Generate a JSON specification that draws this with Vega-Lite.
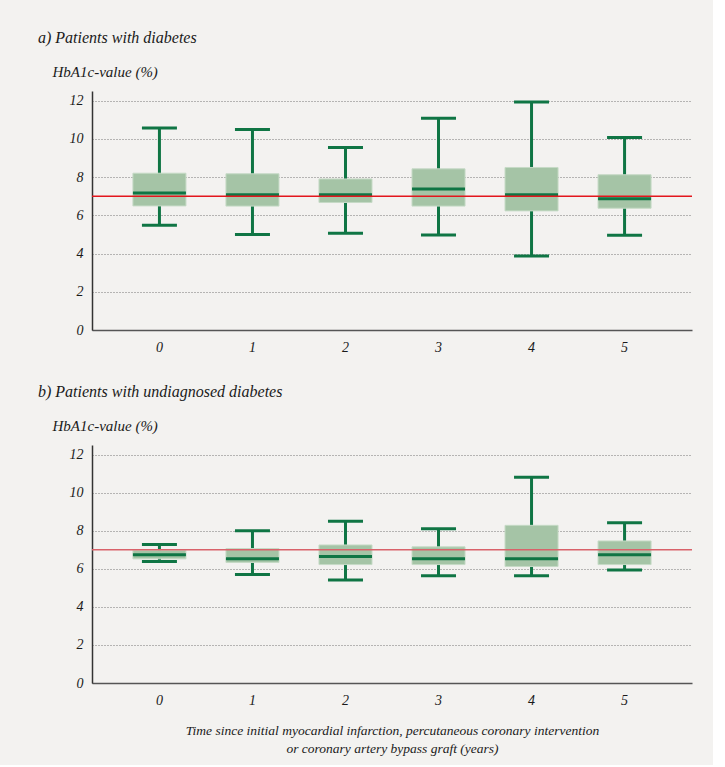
{
  "$schema": "https://vega.github.io/schema/vega-lite/v6.json",
  "background": "#f3f2f0",
  "padding": {"left": 38, "top": 30, "right": 20, "bottom": 10},
  "spacing": 30,
  "config": {
    "font": "Liberation Serif",
    "view": {"stroke": null},
    "tick": {"opacity": 1},
    "title": {"font": "Liberation Serif", "fontStyle": "italic", "fontWeight": "normal", "fontSize": 16, "anchor": "start", "color": "#1a1a1a", "frame": "group"},
    "axis": {"labelFont": "Liberation Serif", "labelFontStyle": "italic", "labelFontSize": 14, "labelColor": "#1a1a1a", "labelOverlap": false, "titleFont": "Liberation Serif", "titleFontStyle": "italic", "titleFontWeight": "normal", "titleFontSize": 15, "titleColor": "#1a1a1a", "ticks": false}
  },
  "datasets": {
    "a": [
      {"year": "0", "lower": 5.48, "q1": 6.49, "median": 7.17, "q3": 8.2, "upper": 10.56},
      {"year": "1", "lower": 4.99, "q1": 6.48, "median": 7.07, "q3": 8.17, "upper": 10.49},
      {"year": "2", "lower": 5.06, "q1": 6.67, "median": 7.07, "q3": 7.9, "upper": 9.55},
      {"year": "3", "lower": 4.97, "q1": 6.48, "median": 7.37, "q3": 8.43, "upper": 11.07},
      {"year": "4", "lower": 3.87, "q1": 6.23, "median": 7.07, "q3": 8.5, "upper": 11.92},
      {"year": "5", "lower": 4.96, "q1": 6.37, "median": 6.86, "q3": 8.12, "upper": 10.07}
    ],
    "b": [
      {"year": "0", "lower": 6.38, "q1": 6.52, "median": 6.73, "q3": 6.97, "upper": 7.27},
      {"year": "1", "lower": 5.7, "q1": 6.33, "median": 6.52, "q3": 7.06, "upper": 8.0},
      {"year": "2", "lower": 5.41, "q1": 6.22, "median": 6.64, "q3": 7.25, "upper": 8.5},
      {"year": "3", "lower": 5.63, "q1": 6.22, "median": 6.52, "q3": 7.15, "upper": 8.1},
      {"year": "4", "lower": 5.63, "q1": 6.12, "median": 6.52, "q3": 8.28, "upper": 10.81},
      {"year": "5", "lower": 5.93, "q1": 6.22, "median": 6.73, "q3": 7.46, "upper": 8.41}
    ]
  },
  "vconcat": [
    {
      "title": {"text": "a) Patients with diabetes", "dx": -54, "offset": 18},
      "width": 600,
      "height": 239,
      "data": {"name": "a"},
      "layer": [
        {
          "mark": {"type": "rule", "color": "#0f7544", "strokeWidth": 3},
          "encoding": {
            "x": {"field": "year", "type": "ordinal", "sort": null, "scale": {"type": "band", "paddingInner": 0.43, "paddingOuter": 0.44},
              "axis": {"title": null, "labelAngle": 0, "labelPadding": 10, "domainColor": "#555", "domainWidth": 1.5}},
            "y": {"field": "lower", "type": "quantitative", "scale": {"domain": [0, 12.5], "nice": false},
              "axis": {"values": [0, 2, 4, 6, 8, 10, 12], "labelFontStyle": "italic", "grid": true, "gridDash": [1, 2], "gridColor": "#777", "gridWidth": 1, "domainColor": "#333", "domainWidth": 1.5, "labelPadding": 9,
                "title": "HbA1c-value (%)", "titleAngle": 0, "titleAlign": "left", "titleAnchor": "end", "titleBaseline": "alphabetic", "titleX": -40, "titleY": -15}},
            "y2": {"field": "upper"}
          }
        },
        {
          "mark": {"type": "tick", "color": "#0f7544", "size": 35, "thickness": 3},
          "encoding": {"x": {"field": "year", "type": "ordinal", "sort": null}, "y": {"field": "upper", "type": "quantitative", "axis": {"values": [0, 2, 4, 6, 8, 10, 12], "labelFontStyle": "italic"}}}
        },
        {
          "mark": {"type": "tick", "color": "#0f7544", "size": 35, "thickness": 3},
          "encoding": {"x": {"field": "year", "type": "ordinal", "sort": null}, "y": {"field": "lower", "type": "quantitative", "axis": {"values": [0, 2, 4, 6, 8, 10, 12], "labelFontStyle": "italic"}}}
        },
        {
          "mark": {"type": "bar", "color": "#a5c4a6", "stroke": "#c6dac6", "strokeWidth": 1},
          "encoding": {"x": {"field": "year", "type": "ordinal", "sort": null}, "y": {"field": "q1", "type": "quantitative", "axis": {"values": [0, 2, 4, 6, 8, 10, 12], "labelFontStyle": "italic"}}, "y2": {"field": "q3"}}
        },
        {
          "mark": {"type": "tick", "color": "#0f7544", "size": 53, "thickness": 3},
          "encoding": {"x": {"field": "year", "type": "ordinal", "sort": null}, "y": {"field": "median", "type": "quantitative", "axis": {"values": [0, 2, 4, 6, 8, 10, 12], "labelFontStyle": "italic"}}}
        },
        {
          "data": {"values": [{}]},
          "mark": {"type": "rule", "color": "#e3161d", "strokeWidth": 1.5},
          "encoding": {"y": {"datum": 7, "axis": {"values": [0, 2, 4, 6, 8, 10, 12], "labelFontStyle": "italic"}}}
        }
      ]
    },
    {
      "title": {"text": "b) Patients with undiagnosed diabetes", "dx": -54, "offset": 18},
      "width": 600,
      "height": 238,
      "data": {"name": "b"},
      "layer": [
        {
          "mark": {"type": "rule", "color": "#0f7544", "strokeWidth": 3},
          "encoding": {
            "x": {"field": "year", "type": "ordinal", "sort": null, "scale": {"type": "band", "paddingInner": 0.43, "paddingOuter": 0.44},
              "axis": {"title": ["Time since initial myocardial infarction, percutaneous coronary intervention", "or coronary artery bypass graft (years)"], "titleFontSize": 13.5, "titleLineHeight": 18, "titlePadding": 16, "labelAngle": 0, "labelPadding": 10, "domainColor": "#555", "domainWidth": 1.5}},
            "y": {"field": "lower", "type": "quantitative", "scale": {"domain": [0, 12.5], "nice": false},
              "axis": {"values": [0, 2, 4, 6, 8, 10, 12], "labelFontStyle": "italic", "grid": true, "gridDash": [1, 2], "gridColor": "#777", "gridWidth": 1, "domainColor": "#333", "domainWidth": 1.5, "labelPadding": 9,
                "title": "HbA1c-value (%)", "titleAngle": 0, "titleAlign": "left", "titleAnchor": "end", "titleBaseline": "alphabetic", "titleX": -40, "titleY": -15}},
            "y2": {"field": "upper"}
          }
        },
        {
          "mark": {"type": "tick", "color": "#0f7544", "size": 35, "thickness": 3},
          "encoding": {"x": {"field": "year", "type": "ordinal", "sort": null}, "y": {"field": "upper", "type": "quantitative", "axis": {"values": [0, 2, 4, 6, 8, 10, 12], "labelFontStyle": "italic"}}}
        },
        {
          "mark": {"type": "tick", "color": "#0f7544", "size": 35, "thickness": 3},
          "encoding": {"x": {"field": "year", "type": "ordinal", "sort": null}, "y": {"field": "lower", "type": "quantitative", "axis": {"values": [0, 2, 4, 6, 8, 10, 12], "labelFontStyle": "italic"}}}
        },
        {
          "mark": {"type": "bar", "color": "#a5c4a6", "stroke": "#c6dac6", "strokeWidth": 1},
          "encoding": {"x": {"field": "year", "type": "ordinal", "sort": null}, "y": {"field": "q1", "type": "quantitative", "axis": {"values": [0, 2, 4, 6, 8, 10, 12], "labelFontStyle": "italic"}}, "y2": {"field": "q3"}}
        },
        {
          "mark": {"type": "tick", "color": "#0f7544", "size": 53, "thickness": 3},
          "encoding": {"x": {"field": "year", "type": "ordinal", "sort": null}, "y": {"field": "median", "type": "quantitative", "axis": {"values": [0, 2, 4, 6, 8, 10, 12], "labelFontStyle": "italic"}}}
        },
        {
          "data": {"values": [{}]},
          "mark": {"type": "rule", "color": "#d9626a", "strokeWidth": 1.5},
          "encoding": {"y": {"datum": 7, "axis": {"values": [0, 2, 4, 6, 8, 10, 12], "labelFontStyle": "italic"}}}
        }
      ]
    }
  ]
}
